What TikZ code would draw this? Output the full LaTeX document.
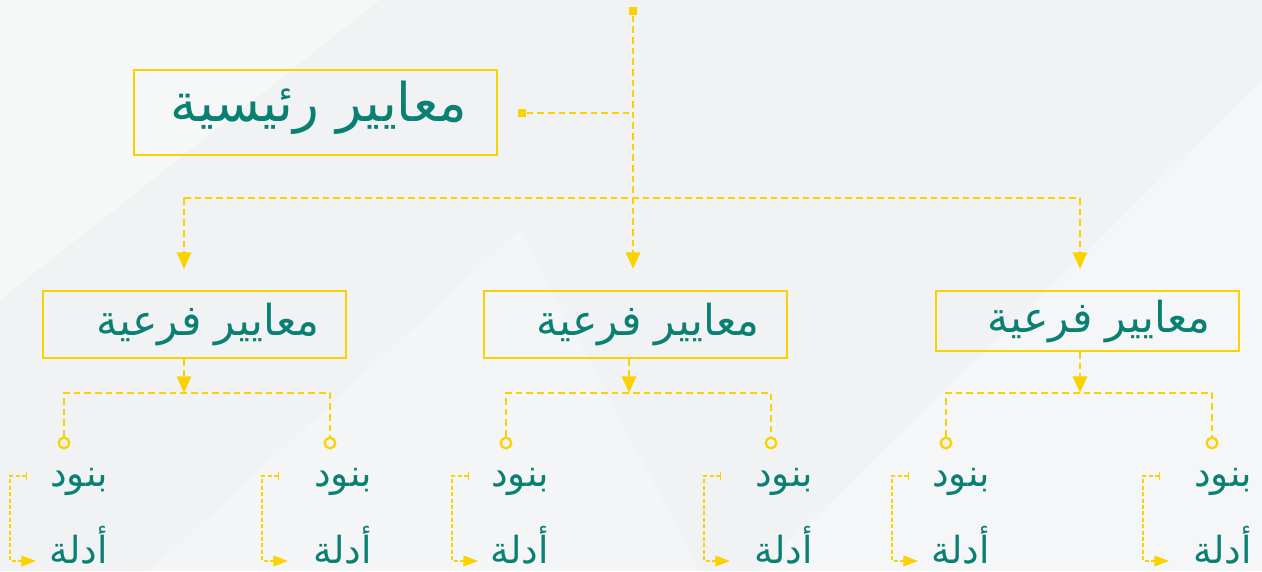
\documentclass[tikz,border=0pt]{standalone}
\usepackage{fontspec}
\TeXXeTstate=1
\newfontfamily\arabicfont[Script=Arabic]{DejaVu Sans}
\usetikzlibrary{arrows.meta}
\definecolor{gold}{HTML}{FAD200}
\definecolor{tealtext}{HTML}{0A8073}
\definecolor{bgc}{HTML}{F1F2F3}
\definecolor{bgl}{HTML}{F6F7F7}
\tikzset{
  gline/.style={draw=gold, line width=2.1pt, dash pattern=on 5pt off 3pt},
  fline/.style={draw=gold, line width=1.2pt, dash pattern=on 3pt off 1.8pt},
  garr/.style={-{Triangle[width=10.5pt,length=12.5pt]}},
  farr/.style={{Bar[width=6pt,line width=1.1pt]}-{Triangle[width=8pt,length=11pt]}},
  sq/.style={fill=gold, minimum size=6.5pt, inner sep=0pt},
  dot/.style={circle, draw=gold, line width=1.7pt, fill=bgc, minimum size=8pt, inner sep=0pt},
  mainbox/.style={draw=gold, line width=1.7pt, minimum width=272.25pt, minimum height=63.75pt, inner sep=0pt},
  subbox/.style={draw=gold, line width=1.7pt, minimum width=227.25pt, inner sep=0pt},
  maintxt/.style={text=tealtext, font=\arabicfont\fontsize{40}{46}\selectfont, inner sep=0pt},
  subtxt/.style={text=tealtext, font=\arabicfont\fontsize{32}{38}\selectfont, inner sep=0pt},
  itemtxt/.style={text=tealtext, font=\arabicfont\fontsize{28}{32}\selectfont, inner sep=0pt, anchor=east},
}
\begin{document}
\begin{tikzpicture}[x=0.75pt,y=-0.75pt]
\fill[bgc] (0,0) rectangle (1262,571);
\useasboundingbox (0,0) rectangle (1262,571);
% subtle background light shapes
\fill[bgl] (0,0) -- (380,0) -- (0,300) -- cycle;
\fill[white,opacity=0.35] (760,571) -- (1262,80) -- (1262,571) -- cycle;
\fill[white,opacity=0.25] (150,571) -- (520,230) -- (700,571) -- cycle;

% main nodes
\node[sq] (top) at (633,11) {};
\node[sq] (lsq) at (522,113) {};
\coordinate (j1) at (633,113);
\node[mainbox] (main) at (315.5,112.5) {};
\node[maintxt] (maint) at (319,108) {\beginR معايير رئيسية\endR};

\node[subbox, minimum height=50.25pt] (subL) at (194.5,324.5) {};
\node[subbox, minimum height=50.25pt] (subM) at (635.5,324.5) {};
\node[subbox, minimum height=45pt] (subR) at (1087.5,321) {};
\node[subtxt] (subLt) at (208,324) {\beginR معايير فرعية\endR};
\node[subtxt] (subMt) at (648,324) {\beginR معايير فرعية\endR};
\node[subtxt] (subRt) at (1099,321) {\beginR معايير فرعية\endR};

% top connectors
\coordinate (hb) at (633,198);
\coordinate (hl) at (184,198);
\coordinate (hr) at (1080,198);
\coordinate (aM) at (633,269);
\coordinate (aL) at (184,269);
\coordinate (aR) at (1080,269);
\draw[gline] (lsq) -- (j1);
\draw[gline,garr] (top) -- (aM);
\draw[gline] (hl) -- (hr);
\draw[gline,garr] (hl) -- (aL);
\draw[gline,garr] (hr) -- (aR);

% sub-group connectors
\foreach \n/\c/\l/\r in {L/184/64/330, M/629/506/771, R/1080/946/1212}{
  \coordinate (b\n) at (\c,393);
  \coordinate (l\n) at (\l,393);
  \coordinate (r\n) at (\r,393);
  \node[dot] (dl\n) at (\l,443) {};
  \node[dot] (dr\n) at (\r,443) {};
  \draw[gline,garr] (sub\n.south -| b\n) -- (b\n);
  \draw[gline] (dl\n) -- (l\n) -- (r\n) -- (dr\n);
}

% items
\foreach \i/\x/\e in {1/10/108, 2/262/372, 3/452/549, 4/704/813, 5/892/990, 6/1143/1252}{
  \node[itemtxt] (b\i) at (\e,482) {\beginR بنود\endR};
  \node[itemtxt] (d\i) at (\e,545) {\beginR أدلة\endR};
  \coordinate (t\i) at (\x+17,476);
  \coordinate (c\i) at (\x,476);
  \coordinate (e\i) at (\x,561);
  \coordinate (p\i) at (\x+26,561);
  \draw[fline,farr] (t\i) -- (c\i) -- (e\i) -- (p\i);
}
\end{tikzpicture}
\end{document}
